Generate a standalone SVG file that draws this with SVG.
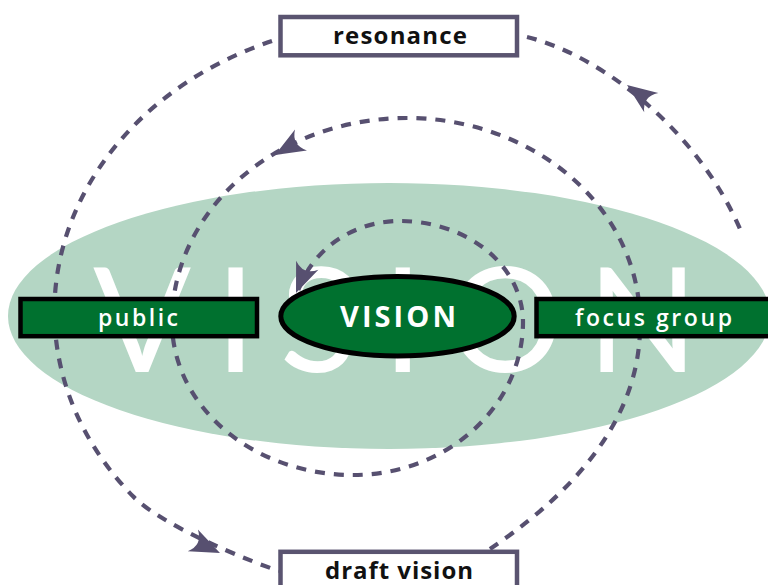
<svg xmlns="http://www.w3.org/2000/svg" xmlns:xlink="http://www.w3.org/1999/xlink" width="768" height="585" viewBox="0 0 768 585">
<style>
.dash{fill:none;stroke:#575070;stroke-width:4.2;stroke-dasharray:10 9;}
.ah{fill:#575070;}
.wbox{fill:#ffffff;stroke:#5a5470;stroke-width:4.5;}
.gbox{fill:#00712f;stroke:#000000;stroke-width:4.5;}
.blk{font-family:"Open Sans",Lato,"Liberation Sans",sans-serif;font-weight:700;font-size:24px;fill:#111111;}
.wht{font-family:"Open Sans",Lato,"Liberation Sans",sans-serif;font-weight:600;font-size:23px;fill:#ffffff;}
</style>
<defs>
<path id="arrowhead" d="M0,0 L-30,-12 Q-19,0 -30,12 Z"/>
</defs>
<rect x="0" y="0" width="768" height="585" fill="#ffffff"/>
<g id="background">
<ellipse cx="389" cy="316" rx="381" ry="133" fill="#b4d6c4"/>
<text x="93" y="372" font-family="Lato,'Liberation Sans',sans-serif" font-weight="400" font-size="145" fill="#ffffff" textLength="605" lengthAdjust="spacing">VISION</text>
</g>
<g id="connectors">
<path class="dash" d="M272,41 A345,291 0 0 0 133,496.3 C161,525 246,560 279,571"/>
<path class="dash" d="M527,37 C600,55 700,130 743,236"/>
<path class="dash" d="M490,549 C555,505 642,430 640,322 A233,204 0 0 0 407,118 A235,204 0 0 0 172,322 A181,153 0 0 0 353,475 A170,153 0 0 0 523,322 A123,101 0 0 0 400,221 A107,101 0 0 0 297,294"/>
<use xlink:href="#arrowhead" class="ah" transform="translate(627,85) rotate(216)"/>
<use xlink:href="#arrowhead" class="ah" transform="translate(275,155) rotate(150)"/>
<use xlink:href="#arrowhead" class="ah" transform="translate(296,293) rotate(112)"/>
<use xlink:href="#arrowhead" class="ah" transform="translate(220,553) rotate(25)"/>
</g>
<g id="node-resonance">
<rect class="wbox" x="280.5" y="17" width="236.5" height="38.3"/>
<text class="blk" x="333" y="43.5" textLength="134" lengthAdjust="spacing">resonance</text>
</g>
<g id="node-draft-vision">
<rect class="wbox" x="280.5" y="551.8" width="236.5" height="45"/>
<text class="blk" x="325" y="578.5" textLength="148" lengthAdjust="spacing">draft vision</text>
</g>
<g id="node-public">
<rect class="gbox" x="20.5" y="299" width="236.5" height="37.2"/>
<text class="wht" x="98" y="325.5" textLength="80" lengthAdjust="spacing">public</text>
</g>
<g id="node-focus-group">
<rect class="gbox" x="536.5" y="299" width="236" height="37.2"/>
<text class="wht" x="575" y="325.5" textLength="157" lengthAdjust="spacing">focus group</text>
</g>
<g id="node-vision">
<ellipse cx="397.5" cy="316.2" rx="116.7" ry="39.7" fill="#00712f" stroke="#000000" stroke-width="5"/>
<text x="340" y="327.3" font-family="'Open Sans',Lato,'Liberation Sans',sans-serif" font-weight="700" font-size="29" fill="#ffffff" textLength="116" lengthAdjust="spacing">VISION</text>
</g>
</svg>
